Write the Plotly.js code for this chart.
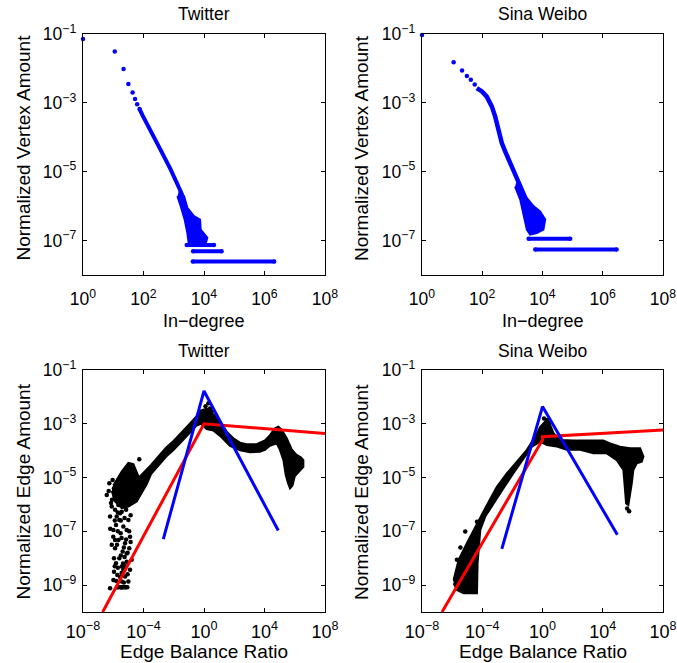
<!DOCTYPE html>
<html>
<head>
<meta charset="utf-8">
<script src="https://cdn.plot.ly/plotly-3.0.1.min.js"></script>
<style>html,body{margin:0;padding:0;background:#fff;}#chart{width:677px;height:663px;}</style>
</head>
<body>
<div id="chart"></div>
<script>
// ---------- DATA (values given as log10 exponents) ----------
const panelTitles = ["Twitter", "Sina Weibo", "Twitter", "Sina Weibo"];
const inDegreeLabel = "In\u2212degree";
const vertexLabel = "Normalized Vertex Amount";
const ratioLabel = "Edge Balance Ratio";
const edgeLabel = "Normalized Edge Amount";

// Tick labels (exponents of 10)
const topXTickExp = [0, 2, 4, 6, 8];
const topYTickExp = [-7, -5, -3, -1];
const botXTickExp = [-8, -4, 0, 4, 8];
const botYTickExp = [-9, -7, -5, -3, -1];

// Twitter in-degree: isolated low-degree points
const twDegX = [0, 1.05, 1.34, 1.50, 1.64, 1.72, 1.79, 1.87];
const twDegY = [-1.145, -1.51, -2.02, -2.45, -2.70, -2.89, -3.04, -3.18];
// Twitter in-degree: dense power-law part
const twDenseX = [1.87, 1.96, 2.56, 2.90, 3.28];
const twDenseY = [-3.18, -3.35, -4.36, -4.94, -5.67];
// Twitter in-degree: scattered high-degree cloud (outline)
const twCloudX = [3.17, 3.34, 3.45, 3.67, 3.87, 3.89, 4.11, 4.06, 3.67, 3.50, 3.45, 3.36, 3.23, 3.12];
const twCloudY = [-5.57, -5.71, -6.05, -6.29, -6.39, -6.68, -6.92, -7.07, -7.16, -7.12, -6.78, -6.39, -6.00, -5.71];
// Twitter in-degree: count = 3, 2, 1 rows
const twRowY = [-7.13, -7.31, -7.61];
const twRowStart = [3.43, 3.64, 3.63];
const twRowEnd = [4.33, 4.58, 6.32];

// Sina Weibo in-degree
const wbDegX = [0, 1.05, 1.33, 1.49, 1.62, 1.75];
const wbDegY = [-1.03, -1.82, -2.06, -2.22, -2.33, -2.47];
const wbDenseX = [1.82, 1.99, 2.15, 2.32, 2.43, 2.54, 2.65, 2.76, 2.93, 3.09, 3.26, 3.43];
const wbDenseY = [-2.57, -2.67, -2.82, -3.11, -3.40, -3.78, -4.17, -4.41, -4.75, -5.04, -5.38, -5.76];
const wbCloudX = [3.15, 3.43, 3.70, 3.92, 4.09, 4.03, 3.81, 3.59, 3.48, 3.37, 3.26, 3.09];
const wbCloudY = [-5.23, -5.71, -6.00, -6.15, -6.39, -6.68, -6.78, -6.83, -6.68, -6.20, -5.81, -5.43];
const wbRowY = [-6.95, -7.26];
const wbRowStart = [3.54, 3.76];
const wbRowEnd = [4.92, 6.46];

// Twitter edge balance ratio: main dense band (outline)
const teBandX = [-6.0, -5.44, -5.0, -4.67, -4.3, -3.5, -2.5, -2.0, -1.0, -0.5, -0.2, 0.1, 0.4, 0.62, 1.06, 1.5, 1.94, 2.38, 2.82, 3.48, 4.03, 4.36, 4.69, 4.92, 5.14, 5.47, 5.8, 6.1, 6.4, 6.57,
                 6.57, 6.3, 6.0, 5.85, 5.69, 5.55, 5.4, 5.25, 5.02, 4.8, 4.36, 4.03, 3.70, 3.04, 2.38, 1.72, 1.06, 0.62, 0.18, -0.2, -0.5, -1.0, -2.0, -2.5, -3.5, -3.79, -4.45, -5.0, -5.44, -5.88, -6.1];
const teBandY = [-5.3, -4.78, -4.45, -4.5, -5.0, -4.53, -3.88, -3.63, -3.03, -2.73, -2.5, -2.45, -2.55, -2.65, -2.9, -3.29, -3.54, -3.70, -3.76, -3.76, -3.62, -3.42, -3.17, -3.11, -3.23, -3.54, -3.95, -4.15, -4.25, -4.35,
                 -4.6, -4.75, -4.95, -5.3, -5.40, -5.2, -4.9, -4.35, -3.97, -3.73, -3.82, -3.97, -4.04, -4.06, -3.99, -3.82, -3.45, -3.25, -3.2, -3.0, -3.07, -3.37, -3.97, -4.22, -4.87, -5.25, -5.89, -6.08, -6.14, -5.89, -5.5];
// Twitter edge balance ratio: scattered points
const teDotX = [-6.43, -6.26, -6.04, -5.95, -6.08, -5.77, -5.66, -5.88, -5.44, -5.60, -5.82, -5.33, -5.99, -5.51, -5.11, -5.66, -5.22, -5.88, -5.38, -4.94, -5.60, -5.11, -5.82, -5.33, -4.89, -5.73, -5.22, -5.99, -5.44, -5.00, -6.21, -5.66, -5.33, -5.07, -5.55, -5.00, -4.89, -6.10, -5.77, -5.29, -6.21, -5.88, -5.44, -5.11, -4.78, -4.28, -5.50, -5.45, -5.40, -5.20,
                -6.30, -6.15, -5.90, -5.70, -5.50, -5.25, -5.90, -6.00, -5.70, -5.45, -5.15, -5.75, -5.50, -5.25, -5.95, -5.70, -5.45, -5.20, -5.95, -5.55, -5.80, -5.30, -5.05, -5.75, -5.50, -5.20, -5.40, -5.15, -5.00, -4.85, -6.20, -5.30, -5.60, -5.35, -4.95, -5.05, -6.10, -5.90, -5.35, -4.85,
                0.29, 0.40, -0.04, 0.51, 0.18, -0.26, 0.62, 0.10];
const teDotY = [-5.65, -5.21, -5.09, -5.40, -5.83, -5.59, -6.02, -6.20, -6.27, -6.58, -6.76, -6.82, -6.95, -7.07, -6.95, -7.32, -7.44, -7.63, -7.75, -7.63, -8.00, -8.13, -8.19, -8.43, -8.43, -8.62, -8.68, -8.81, -8.87, -8.87, -9.12, -9.08, -9.08, -9.08, -6.33, -6.58, -7.20, -6.08, -6.45, -6.08, -6.45, -7.32, -8.31, -7.82, -8.06, -4.32, -9.08, -9.08, -9.08, -9.08,
                -5.50, -5.95, -5.70, -6.30, -6.60, -6.50, -6.60, -7.20, -7.00, -7.25, -7.30, -7.50, -7.90, -7.95, -8.00, -8.35, -8.55, -8.30, -8.50, -8.70, -8.85, -8.90, -8.60, -9.08, -9.08, -9.08, -6.00, -6.20, -5.90, -6.40, -6.90, -7.60, -5.40, -5.80, -7.00, -7.80, -7.50, -8.30, -8.20, -7.40,
                -2.24, -2.43, -2.55, -2.55, -2.49, -2.61, -2.73, -2.35];
const teRedX = [-6.70, 0, 8];
const teRedY = [-10, -3.0, -3.36];
const teBlueX = [-2.69, 0, 4.91];
const teBlueY = [-7.29, -1.78, -6.97];

// Sina Weibo edge balance ratio
const weBandX = [-5.90, -5.57, -5.02, -4.58, -4.13, -3.69, -3.03, -2.36, -1.70, -1.04, -0.49, -0.15, 0.18, 0.51, 0.73, 1.17, 2.05, 3.16, 4.04, 4.49, 5.15, 5.81, 6.48, 6.70,
                 6.59, 6.26, 6.03, 5.93, 5.81, 5.70, 5.55, 5.48, 5.37, 4.93, 4.27, 3.38, 2.50, 1.62, 0.95, 0.29, -0.15, -0.71, -1.26, -1.93, -2.59, -3.25, -3.80, -4.13, -4.24, -4.31, -4.35, -5.24, -5.68, -5.90];
const weBandY = [-8.81, -8.06, -7.44, -6.95, -6.51, -6.02, -5.34, -4.84, -4.41, -3.97, -3.48, -3.11, -2.92, -3.04, -3.35, -3.60, -3.62, -3.62, -3.62, -3.73, -3.85, -3.91, -3.91, -4.22,
                 -4.41, -4.47, -4.72, -5.21, -5.58, -6.02, -5.96, -5.34, -4.72, -4.35, -4.10, -4.10, -3.97, -3.97, -3.85, -3.79, -3.66, -3.85, -4.28, -4.84, -5.40, -5.96, -6.45, -6.95, -7.57, -8.19, -9.30, -9.30, -9.18, -8.93];
const weDotX = [-5.13, -4.35, -5.79, -5.68, -5.45, 0.29, 0.10, 0.45, 5.62, 5.75];
const weDotY = [-7.01, -6.64, -8.81, -8.06, -7.60, -2.86, -2.80, -2.95, -6.15, -6.25];
const weRedX = [-6.67, 0, 0, 8];
const weRedY = [-10, -3.6, -3.48, -3.23];
const weBlueX = [-2.70, 0, 4.97];
const weBlueY = [-7.65, -2.36, -7.13];

// ---------- BUILD ----------
const p10 = a => a.map(v => Math.pow(10, v));
const BLUE = '#0000ff', RED = '#ff0000', BLACK = '#000000';
const DOT = 4.5;

function dots(xs, ys, color, ax) {
  return {x: p10(xs), y: p10(ys), mode: 'markers', type: 'scatter', cliponaxis: false,
          marker: {color: color, size: DOT, line: {width: 0}}, xaxis: ax[0], yaxis: ax[1], hoverinfo: 'skip'};
}
function thickLine(xs, ys, color, w, ax) {
  return {x: p10(xs), y: p10(ys), mode: 'lines', type: 'scatter',
          line: {color: color, width: w}, xaxis: ax[0], yaxis: ax[1], hoverinfo: 'skip'};
}
function cloud(xs, ys, color, ax) {
  return {x: p10(xs), y: p10(ys), mode: 'lines', type: 'scatter', fill: 'toself', fillcolor: color,
          line: {color: color, width: 2}, xaxis: ax[0], yaxis: ax[1], hoverinfo: 'skip'};
}
function rows(ys, starts, ends, color, ax) {
  return ys.map((y, i) => ({x: p10([starts[i], ends[i]]), y: p10([y, y]), mode: 'lines+markers', type: 'scatter', cliponaxis: false,
              line: {color: color, width: 4}, marker: {color: color, size: DOT},
              xaxis: ax[0], yaxis: ax[1], hoverinfo: 'skip'}));
}

const A1 = ['x', 'y'], A2 = ['x2', 'y2'], A3 = ['x3', 'y3'], A4 = ['x4', 'y4'];
const traces = [
  dots(twDegX, twDegY, BLUE, A1),
  thickLine(twDenseX, twDenseY, BLUE, 4, A1),
  cloud(twCloudX, twCloudY, BLUE, A1),
  ...rows(twRowY, twRowStart, twRowEnd, BLUE, A1),

  dots(wbDegX, wbDegY, BLUE, A2),
  thickLine(wbDenseX, wbDenseY, BLUE, 4.5, A2),
  cloud(wbCloudX, wbCloudY, BLUE, A2),
  ...rows(wbRowY, wbRowStart, wbRowEnd, BLUE, A2),

  cloud(teBandX, teBandY, BLACK, A3),
  dots(teDotX, teDotY, BLACK, A3),
  thickLine(teRedX, teRedY, RED, 3, A3),
  thickLine(teBlueX, teBlueY, BLUE, 3, A3),

  cloud(weBandX, weBandY, BLACK, A4),
  dots(weDotX, weDotY, BLACK, A4),
  thickLine(weRedX, weRedY, RED, 3, A4),
  thickLine(weBlueX, weBlueY, BLUE, 3, A4)
];

const FONT = 'Liberation Sans, Arial, Helvetica, sans-serif';
const supLabel = e => '10<sup>' + (e < 0 ? '\u2212' + (-e) : e) + '</sup>';

function axis(domain, range, tickExp, anchor, fontSize, standoff) {
  return {
    type: 'log', domain: domain, range: range, anchor: anchor,
    tickvals: p10(tickExp), ticktext: tickExp.map(supLabel), tickmode: 'array',
    showgrid: false, zeroline: false, showline: true, linecolor: '#000', linewidth: 1.2,
    mirror: 'ticks', ticks: 'inside', ticklen: 4, tickwidth: 1, tickcolor: '#000',
    ticklabelstandoff: standoff, ticklabeloverflow: 'allow',
    tickfont: {family: FONT, size: fontSize, color: '#000'}, automargin: false
  };
}

const xL = [83 / 677, 325 / 677], xR = [422 / 677, 663 / 677];
const yT = [1 - 275 / 663, 1 - 34 / 663], yB = [1 - 612 / 663, 1 - 370 / 663];

const layout = {
  width: 677, height: 663, showlegend: false,
  margin: {l: 0, r: 0, t: 0, b: 0, pad: 0},
  paper_bgcolor: '#fff', plot_bgcolor: '#fff',
  font: {family: FONT, color: '#000'},
  xaxis: axis(xL, [0, 8], topXTickExp, 'y', 17.5, 8),
  yaxis: axis(yT, [-8, -1], topYTickExp, 'x', 17.5, 2),
  xaxis2: axis(xR, [0, 8], topXTickExp, 'y2', 17.5, 8),
  yaxis2: axis(yT, [-8, -1], topYTickExp, 'x2', 17.5, 2),
  xaxis3: axis(xL, [-8, 8], botXTickExp, 'y3', 18, 3),
  yaxis3: axis(yB, [-10, -1], botYTickExp, 'x3', 17.5, 2),
  xaxis4: axis(xR, [-8, 8], botXTickExp, 'y4', 18, 3),
  yaxis4: axis(yB, [-10, -1], botYTickExp, 'x4', 17.5, 2),
  annotations: [
    {text: panelTitles[0], x: 204 / 677, y: 1 - 13.5 / 663},
    {text: panelTitles[1], x: 542.5 / 677, y: 1 - 13.5 / 663},
    {text: panelTitles[2], x: 204 / 677, y: 1 - 351 / 663},
    {text: panelTitles[3], x: 542.5 / 677, y: 1 - 351 / 663},
    {text: inDegreeLabel, x: 204 / 677, y: 1 - 321 / 663, size: 18},
    {text: inDegreeLabel, x: 542.5 / 677, y: 1 - 321 / 663, size: 18},
    {text: ratioLabel, x: 204 / 677, y: 0, size: 19, yanchor: 'bottom'},
    {text: ratioLabel, x: 542.5 / 677, y: 0, size: 19, yanchor: 'bottom'},
    {text: vertexLabel, x: 22.5 / 677, y: 1 - 148 / 663, size: 19, angle: -90},
    {text: vertexLabel, x: 361 / 677, y: 1 - 148 / 663, size: 19, angle: -90},
    {text: edgeLabel, x: 22.5 / 677, y: 1 - 492 / 663, size: 19, angle: -90},
    {text: edgeLabel, x: 361 / 677, y: 1 - 492 / 663, size: 19, angle: -90}
  ].map(a => ({
    text: a.text, x: a.x, y: a.y, xref: 'paper', yref: 'paper', showarrow: false,
    xanchor: 'center', yanchor: a.yanchor || 'middle', textangle: a.angle || 0, borderpad: 0,
    font: {family: FONT, size: a.size || 17.5, color: '#000'}
  }))
};

Plotly.newPlot('chart', traces, layout, {staticPlot: true, displayModeBar: false});
</script>
</body>
</html>
